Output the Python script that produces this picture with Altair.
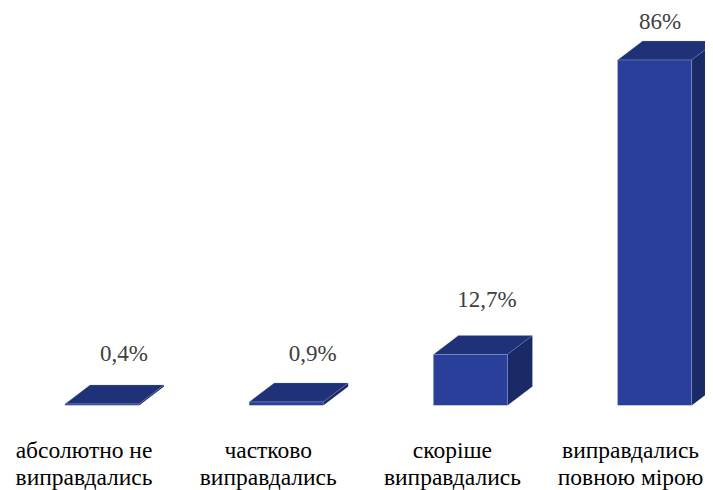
import altair as alt
import pandas as pd

line1 = ["абсолютно не", "частково", "скоріше", "виправдались"]
line2 = ["виправдались", "виправдались", "виправдались", "повною мірою"]
values = [0.4, 0.9, 12.7, 86]
value_labels = ["0,4%", "0,9%", "12,7%", "86%"]

FONT = "Liberation Serif"
FRONT, TOP, SIDE = "#2a3f9a", "#1f3278", "#1a2a66"
EDGE = "#9aa8d8"
LEFT, RIGHT = -0.1004, 0.3013
DX, DY = 0.1357, 4.73
LABEL_NUDGE = [(40.5, -31), (45, -29), (35, -35), (24, -19)]
TICKS = [0, 1, 2, 2.967]  # the last label is pulled in so that it stays inside the page

front, top, side, text = [], [], [], []
for i, v in enumerate(values):
    xl, xr = i + LEFT, i + RIGHT
    front.append(dict(c=i, x=xl, x2=xr, y=0, y2=v))
    top.append(dict(c=i, y=v, x=xl, x2=xr))
    top.append(dict(c=i, y=v + DY, x=xl + DX, x2=xr + DX))
    side.append(dict(c=i, x=xr, y=0, y2=v))
    side.append(dict(c=i, x=xr + DX, y=DY, y2=v + DY))
    text.append(dict(c=i, y=v + DY, t=value_labels[i]))

xs = alt.Scale(domain=[-0.41, 3.374], nice=False, zero=False)
ys = alt.Scale(domain=[0, 98.95], nice=False, zero=False)
expr = "split(['" + "','".join(f"{a}|{b}" for a, b in zip(line1, line2)) + "'][round(datum.value)], '|')"
xaxis = alt.Axis(values=TICKS, title=None, domain=False, ticks=False, grid=False,
                 labelExpr=expr, labelFont=FONT, labelFontSize=23.5, labelColor="#000000",
                 labelPadding=33, labelLineHeight=27, labelOverlap=False, labelFlush=False,
                 labelAngle=0, labelBound=False)
yaxis = None

base_x = alt.X("x:Q", scale=xs, axis=xaxis)
base_y = alt.Y("y:Q", scale=ys, axis=yaxis)

front_l = alt.Chart(pd.DataFrame(front)).mark_rect(color=FRONT, stroke=EDGE, strokeWidth=0.4, clip=True).encode(
    x=base_x, x2="x2:Q", y=base_y, y2="y2:Q")
top_l = alt.Chart(pd.DataFrame(top)).mark_area(orient="horizontal", color=TOP, stroke=EDGE, strokeWidth=0.25, clip=True).encode(
    y=alt.Y("y:Q", scale=ys, axis=yaxis, sort=None), x=alt.X("x:Q", scale=xs, axis=xaxis), x2="x2:Q", detail="c:N")
side_l = alt.Chart(pd.DataFrame(side)).mark_area(color=SIDE, clip=True).encode(
    x=base_x, y=base_y, y2="y2:Q", detail="c:N")

layers = [side_l, top_l, front_l]
df_t = pd.DataFrame(text)
for i, (dx, dy) in enumerate(LABEL_NUDGE):
    layers.append(alt.Chart(df_t[df_t.c == i]).mark_text(
        font=FONT, fontSize=23, color="#404040", dx=dx, dy=dy, baseline="middle", align="center"
    ).encode(x=alt.X("c:Q", scale=xs, axis=xaxis), y=base_y, text="t:N"))

chart = alt.layer(*layers).properties(
    width=697, height=397.5, autosize=alt.AutoSizeParams(type="none"),
    padding={"left": 0, "top": 0, "right": 0, "bottom": 84}, background="#ffffff"
).configure_view(stroke=None)

chart.save("out.html", embed_options={"renderer": "svg", "actions": False})
